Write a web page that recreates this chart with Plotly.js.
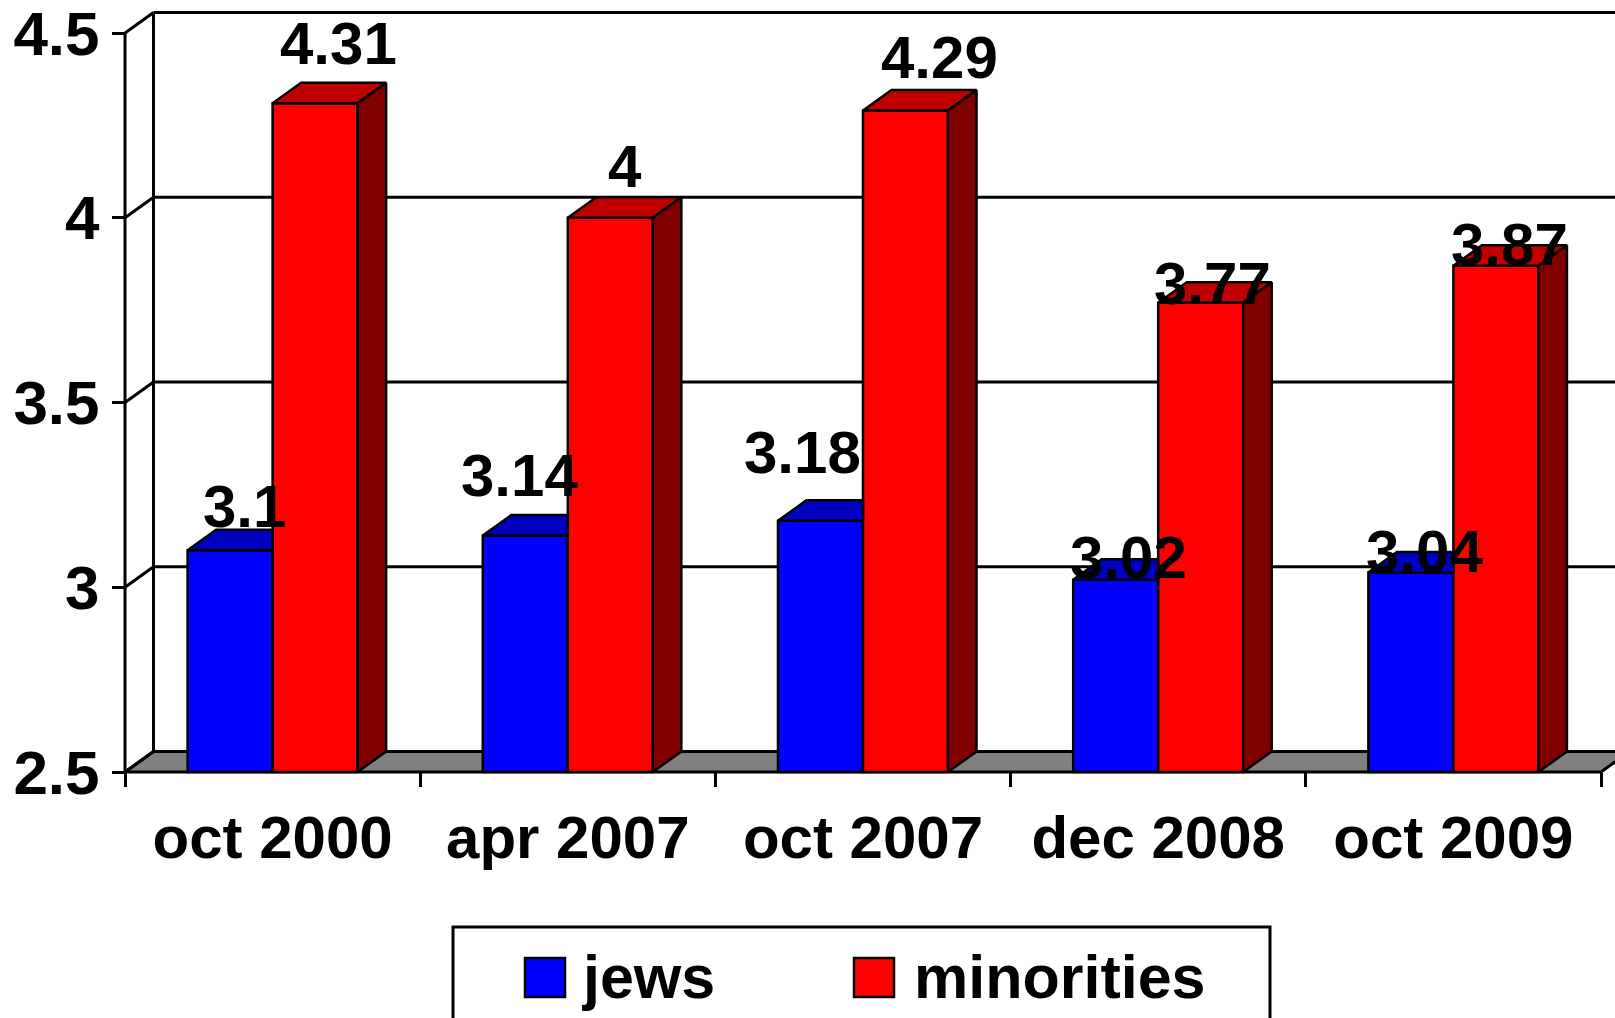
<!DOCTYPE html>
<html>
<head>
<meta charset="utf-8">
<script src="https://cdn.plot.ly/plotly-3.0.1.min.js"></script>
<style>html,body{margin:0;padding:0;background:#fff;}#chart{width:1615px;height:1018px;}</style>
</head>
<body>
<div id="chart"></div>
<script>
// ---------- data ----------
const categories = ['oct 2000', 'apr 2007', 'oct 2007', 'dec 2008', 'oct 2009'];
const seriesNames = ['jews', 'minorities'];
const jews = [3.1, 3.14, 3.18, 3.02, 3.04];
const minorities = [4.31, 4.0, 4.29, 3.77, 3.87];
const yTickVals = [2.5, 3, 3.5, 4, 4.5];
const yTickText = ['2.5', '3', '3.5', '4', '4.5'];

// ---------- style ----------
const W = 1615, H = 1018;
const pxPerX = 295.2, pxPerY = 369.5;
const padPx = 3;
const marginL = 125 - padPx, marginB = (H - 772) - padPx;
const yBase = 2.5;
const xMin = -0.5 - padPx / pxPerX;
const xMax = xMin + (W - marginL) / pxPerX;
const yMin = yBase - padPx / pxPerY;
const yMax = yMin + (H - marginB) / pxPerY;
const dx = 28.5 / pxPerX, dy = 20.5 / pxPerY;   // 3-D depth
const bargap = 0.424;
const bw = (1 - bargap) / 2;
const FONT = '"Liberation Sans", Arial, sans-serif';
const LW = 3, BLW = 2.5;
const colors = {
  blue: '#0000FF', blueTop: '#0000C0',
  red: '#FF0000', redTop: '#C00000', redSide: '#800000',
  floor: '#808080'
};
// label nudges in pixels [dx, dy] (as placed in the original)
const jewsLabelNudge = [[14, -44], [-6, -60], [-18, -68], [13, -22], [14, -21]];
const minLabelNudge = [[23, -60], [15, -51], [34, -53], [12, -19], [14, -21]];

const xs = categories.map((c, i) => i);

// ---------- traces ----------
const traces = [];
traces.push({
  type: 'bar', name: seriesNames[0], x: xs, y: jews.map(v => v - yBase), base: yBase,
  marker: {color: colors.blue, line: {color: '#000', width: BLW}}, showlegend: false, hoverinfo: 'skip'
});
traces.push({
  type: 'bar', name: seriesNames[1], x: xs, y: minorities.map(v => v - yBase), base: yBase,
  marker: {color: colors.red, line: {color: '#000', width: BLW}}, showlegend: false, hoverinfo: 'skip'
});

function poly(builder, vals) {
  const X = [], Y = [];
  vals.forEach((v, i) => {
    const pts = builder(i, v);
    pts.forEach(p => { X.push(p[0]); Y.push(p[1]); });
    X.push(pts[0][0]); Y.push(pts[0][1]);
    X.push(null); Y.push(null);
  });
  return {X, Y};
}
// blue top face (portion not hidden by the red bar in front)
const bt = poly((i, v) => [[i - bw, v], [i, v], [i, v + dy], [i - bw + dx, v + dy]], jews);
// red top face
const rt = poly((i, v) => [[i, v], [i + bw, v], [i + bw + dx, v + dy], [i + dx, v + dy]], minorities);
// red side face
const rs = poly((i, v) => [[i + bw, yBase], [i + bw, v], [i + bw + dx, v + dy], [i + bw + dx, yBase + dy]], minorities);
[[bt, colors.blueTop], [rt, colors.redTop], [rs, colors.redSide]].forEach(([p, c]) => {
  traces.push({
    type: 'scatter', mode: 'lines', x: p.X, y: p.Y, fill: 'toself', fillcolor: c,
    line: {color: '#000', width: BLW}, showlegend: false, hoverinfo: 'skip'
  });
});

// ---------- shapes (walls, floor, gridlines) ----------
const shapes = [];
const L = (x0, y0, x1, y1) => ({type: 'line', xref: 'x', yref: 'y', x0, y0, x1, y1, layer: 'below', line: {color: '#000', width: LW}});
// floor
shapes.push({
  type: 'path', xref: 'x', yref: 'y', layer: 'below',
  path: `M${-0.5},${yBase} L${4.5},${yBase} L${4.5 + dx},${yBase + dy} L${-0.5 + dx},${yBase + dy} Z`,
  fillcolor: colors.floor, line: {color: '#000', width: LW}
});
// back wall left edge
shapes.push(L(-0.5 + dx, yBase + dy, -0.5 + dx, yTickVals[yTickVals.length - 1] + dy));
// back-wall gridlines (incl. top border)
yTickVals.slice(1).forEach(t => shapes.push(L(-0.5 + dx, t + dy, 4.5 + dx, t + dy)));
// front value axis line
shapes.push(L(-0.5, yBase, -0.5, yTickVals[yTickVals.length - 1]));
// side-wall connectors
yTickVals.forEach(t => shapes.push(L(-0.5, t, -0.5 + dx, t + dy)));

// ---------- legend (manual) ----------
const pX = p => (p - marginL) / (W - marginL);
const pY = p => (H - marginB - p) / (H - marginB);
shapes.push({type: 'rect', xref: 'paper', yref: 'paper', x0: pX(453), x1: pX(1270), y0: pY(1040), y1: pY(927),
  line: {color: '#000', width: LW}, fillcolor: 'rgba(0,0,0,0)'});
shapes.push({type: 'rect', xref: 'paper', yref: 'paper', x0: pX(525), x1: pX(565), y0: pY(997), y1: pY(958),
  line: {color: '#000', width: BLW}, fillcolor: colors.blue});
shapes.push({type: 'rect', xref: 'paper', yref: 'paper', x0: pX(854), x1: pX(894), y0: pY(997), y1: pY(958),
  line: {color: '#000', width: BLW}, fillcolor: colors.red});

const annotations = [];
annotations.push({xref: 'paper', yref: 'paper', x: pX(580), y: pY(977), xanchor: 'left', yanchor: 'middle',
  text: seriesNames[0], showarrow: false, font: {family: FONT, size: 61, color: '#000', weight: 'bold'}});
annotations.push({xref: 'paper', yref: 'paper', x: pX(912), y: pY(977), xanchor: 'left', yanchor: 'middle',
  text: seriesNames[1], showarrow: false, font: {family: FONT, size: 61, color: '#000', weight: 'bold'}});

// ---------- data labels ----------
jews.forEach((v, i) => annotations.push({
  xref: 'x', yref: 'y', x: i - bw / 2, y: v, text: String(v), showarrow: false,
  xanchor: 'center', yanchor: 'middle', xshift: jewsLabelNudge[i][0], yshift: -jewsLabelNudge[i][1],
  font: {family: FONT, size: 60, color: '#000', weight: 'bold'}
}));
minorities.forEach((v, i) => annotations.push({
  xref: 'x', yref: 'y', x: i + bw / 2, y: v, text: String(v), showarrow: false,
  xanchor: 'center', yanchor: 'middle', xshift: minLabelNudge[i][0], yshift: -minLabelNudge[i][1],
  font: {family: FONT, size: 60, color: '#000', weight: 'bold'}
}));

const boundaries = categories.map((c, i) => i - 0.5).concat([categories.length - 0.5]);

const layout = {
  width: W, height: H,
  margin: {l: marginL, r: 0, t: 0, b: marginB, pad: 0},
  paper_bgcolor: '#fff', plot_bgcolor: '#fff',
  showlegend: false,
  barmode: 'group', bargap: bargap, bargroupgap: 0,
  font: {family: FONT, color: '#000'},
  xaxis: {
    range: [xMin, xMax], anchor: 'free', position: padPx / (H - marginB),
    tickmode: 'array', tickvals: xs, ticktext: categories, ticks: '',
    showgrid: false, zeroline: false, showline: false,
    tickfont: {family: FONT, size: 60, color: '#000', weight: 'bold'},
    ticklabelstandoff: 25, ticklabeloverflow: 'allow',
    minor: {tickmode: 'array', tickvals: boundaries, ticks: 'outside', ticklen: 14, tickwidth: LW, tickcolor: '#000', showgrid: false},
    fixedrange: true
  },
  yaxis: {
    range: [yMin, yMax], anchor: 'free', position: padPx / (W - marginL),
    tickmode: 'array', tickvals: yTickVals, ticktext: yTickText,
    ticks: 'outside', ticklen: 13, tickwidth: LW, tickcolor: '#000',
    showgrid: false, zeroline: false, showline: false,
    tickfont: {family: FONT, size: 62, color: '#000', weight: 'bold'},
    ticklabelstandoff: 0, ticklabeloverflow: 'allow',
    fixedrange: true
  },
  shapes: shapes,
  annotations: annotations
};

Plotly.newPlot('chart', traces, layout, {displayModeBar: false, staticPlot: true});
</script>
</body>
</html>
